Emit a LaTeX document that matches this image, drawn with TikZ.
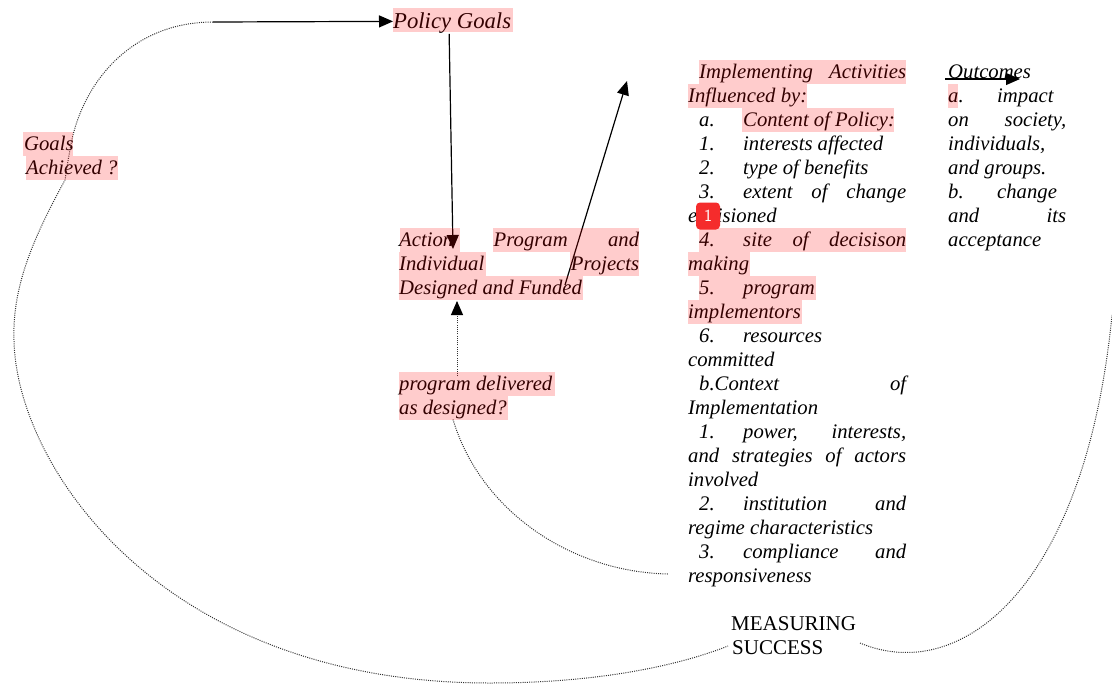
\documentclass[tikz,border=0pt]{standalone}
\usepackage{fontspec}
\setmainfont{Liberation Serif}
\usetikzlibrary{arrows.meta}
\definecolor{badgered}{HTML}{F52C2C}
\tikzset{
  txt/.style={anchor=base west,inner sep=0pt,yshift=-.8pt,font=\itshape\fontsize{20.7}{24}\selectfont},
  plain/.style={anchor=base west,inner sep=0pt,font=\fontsize{21}{24}\selectfont},
  link/.style={line width=1.2pt,-{Triangle[length=14pt,width=12pt]}},
  dots/.style={line width=1pt,black!80,dash pattern=on 1pt off 1.2pt},
  hilite/.style={fill=red,fill opacity=.2},
  badge/.style={fill=badgered,text=white,rounded corners=4pt,inner sep=0pt,
    minimum width=24pt,minimum height=27pt,font=\sffamily\fontsize{17}{17}\selectfont}
}
\newcommand{\jline}[2]{\makebox[#1pt][s]{#2}}
\begin{document}
\begin{tikzpicture}[x=1pt,y=-1pt]
\useasboundingbox (0,0) rectangle (1112,686);

\node[txt,font=\itshape\fontsize{22.7}{24}\selectfont] (policy) at (393,28) {Policy Goals};
\node[txt] (goals) at (24,150) {Goals};
\node[txt] (achieved) at (26,174) {Achieved ?};

\node[txt] (action) at (399,246) {\jline{240}{Action\hfill Program\hfill and}};
\node[txt] (individual) at (399,270) {\jline{240}{Individual\hfill Projects}};
\node[txt] (designed) at (399,294) {Designed and Funded};
\node[txt] (delivered) at (399,390) {program delivered};
\node[txt] (asdesigned) at (399,414) {as designed?};

\node[plain] (measuring) at (731,630) {MEASURING};
\node[plain] (success) at (732,654) {SUCCESS};

% first column
\foreach \n/\x/\y/\t in {
  a/699/78/{\jline{207}{Implementing\hfill Activities}},
  b/688/102/{Influenced by:},
  c/699/126/{a.},
  d/743/126/{Content of Policy:},
  e/699/150/{1.},
  f/743/150/{interests affected},
  g/699/174/{2.},
  h/743/174/{type of benefits},
  i/699/198/{3.},
  j/743/198/{\jline{163}{extent\hfill of\hfill change}},
  k/688/222/{envisioned},
  l/699/246/{4.},
  m/743/246/{\jline{163}{site\hfill of\hfill decisison}},
  n/688/270/{making},
  o/699/294/{5.},
  p/743/294/{program},
  q/688/318/{implementors},
  r/699/342/{6.},
  s/743/342/{resources},
  t/688/366/{committed},
  u/699/390/{\jline{207}{b.Context\hfill of}},
  v/688/414/{Implementation},
  w/699/438/{1.},
  x/743/438/{\jline{163}{power,\hfill interests,}},
  y/688/462/{\jline{218}{and\hfill strategies\hfill of\hfill actors}},
  z/688/486/{involved},
  A/699/510/{2.},
  B/743/510/{\jline{163}{institution\hfill and}},
  C/688/534/{regime characteristics},
  D/699/558/{3.},
  E/743/558/{\jline{163}{compliance\hfill and}},
  F/688/582/{responsiveness}}
  \node[txt] (left\n) at (\x,\y) {\t};

% second column
\foreach \n/\x/\y/\t in {
  a/948/78/{Outcomes},
  b/948/102/{a.},
  c/997/102/{impact},
  d/948/126/{\jline{118}{on\hfill society,}},
  e/948/150/{individuals,},
  f/948/174/{and groups.},
  g/948/198/{b.},
  h/997/198/{change},
  i/948/222/{\jline{118}{and\hfill its}},
  j/948/246/{acceptance}}
  \node[txt] (right\n) at (\x,\y) {\t};

\coordinate (start) at (213,22);
\coordinate (up) at (627,81);
\coordinate (outa) at (945,79);
\coordinate (outb) at (1020,79);

\draw[link] (start) -- ([yshift=2pt]policy.west);
\draw[link] ([xshift=-3pt]policy.south) -- (453,249);
\draw[link] (565,285) -- (up);
\draw[link] (outa) -- (outb);
\draw[dots,-{Triangle[length=14pt,width=12pt,black]}] (delivered.north -| 457,0) -- (457,301);

\draw[dots] (start) .. controls (130,22) and (80,85) .. (70,150)
  .. controls (67,165) and (66,175) .. (65,180)
  .. controls (35,235) and (12,285) .. (14,340)
  .. controls (16,465) and (160,683) .. (490,683)
  .. controls (600,683) and (680,665) .. (728,646);
\draw[dots] (asdesigned.south -| 453,0) .. controls (480,510) and (570,572) .. (668,574);
\draw[dots] (860,643) .. controls (960,685) and (1085,590) .. (1112,315);

% highlights go over text and lines
\foreach \xa/\ya/\xb/\yb in {393/8/513/32,23/132/73/156,26/156/118/180,
  400/228/460/252,493/228/639/252,399/252/486/276,570/252/639/276,399/276/583/300,
  399/372/555/396,399/396/508/420,
  699/60/906/84,688/84/807/108,742/108/894/132,699/228/906/252,688/252/750/276,
  699/276/816/300,688/300/802/324,948/84/958/108}
  \fill[hilite] (\xa,\ya) rectangle (\xb,\yb);

\node[badge] (note) at (708,216) {1};

\end{tikzpicture}
\end{document}
